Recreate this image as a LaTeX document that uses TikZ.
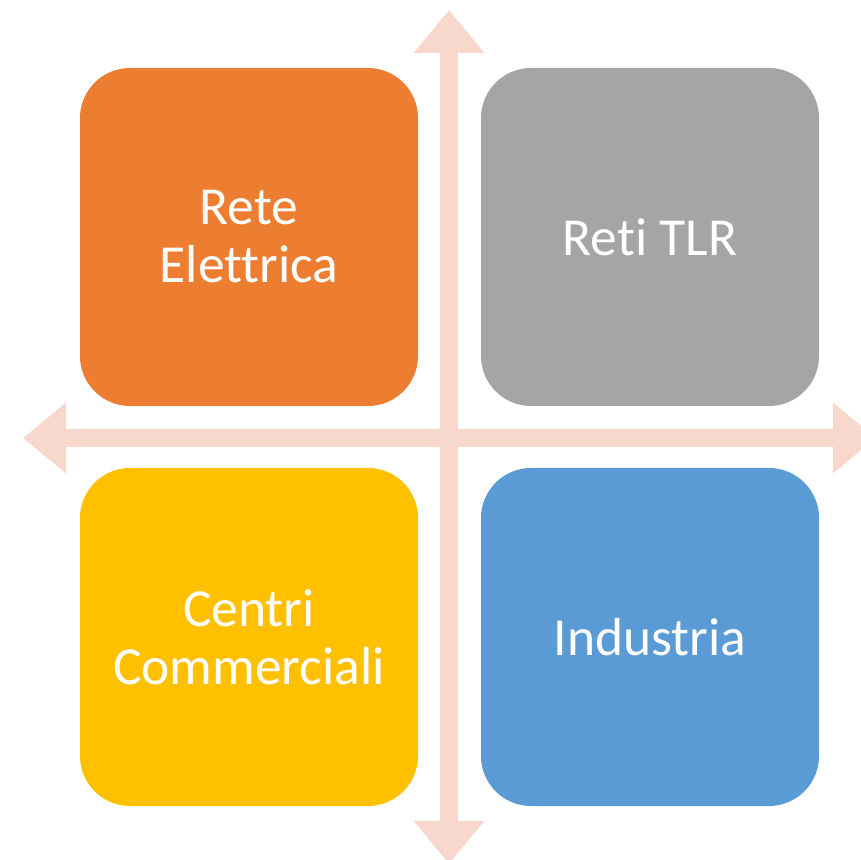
\documentclass[tikz,border=0pt]{standalone}
\usepackage{fontspec}
\setmainfont{Carlito}[Ligatures=NoCommon]
\usetikzlibrary{arrows.meta}
\definecolor{axis}{HTML}{F8D7CC}
\definecolor{corange}{HTML}{ED7D31}
\definecolor{cgray}{HTML}{A5A5A5}
\definecolor{cgold}{HTML}{FFC000}
\definecolor{cblue}{HTML}{5B9BD5}
\tikzset{
  quad/.style={rounded corners=50pt, minimum width=338pt, minimum height=338pt, inner sep=0pt,
    text=white, align=center, font=\fontsize{53.5}{58}\selectfont},
  axisarrow/.style={draw=axis, line width=18pt, {Triangle[width=68pt,length=43pt]}-{Triangle[width=68pt,length=43pt]}}
}
\begin{document}
\begin{tikzpicture}[x=1pt,y=1pt]
\useasboundingbox (0,0) rectangle (861,859);
\begin{scope}
\clip (0,0) rectangle (861,859);
\coordinate (top) at (449,849);
\coordinate (bottom) at (449,-5);
\coordinate (left) at (23,421);
\coordinate (right) at (876,421);
\draw[axisarrow] (top) -- (bottom);
\draw[axisarrow] (left) -- (right);
\end{scope}
\node[quad, fill=corange] (tl) at (249,622) {Rete\\Elettrica};
\node[quad, fill=cgray] (tr) at (650,622) {Reti TLR};
\node[quad, fill=cgold] (bl) at (249,222) {Centri\\Commerciali};
\node[quad, fill=cblue] (br) at (650,222) {Industria};
\end{tikzpicture}
\end{document}
